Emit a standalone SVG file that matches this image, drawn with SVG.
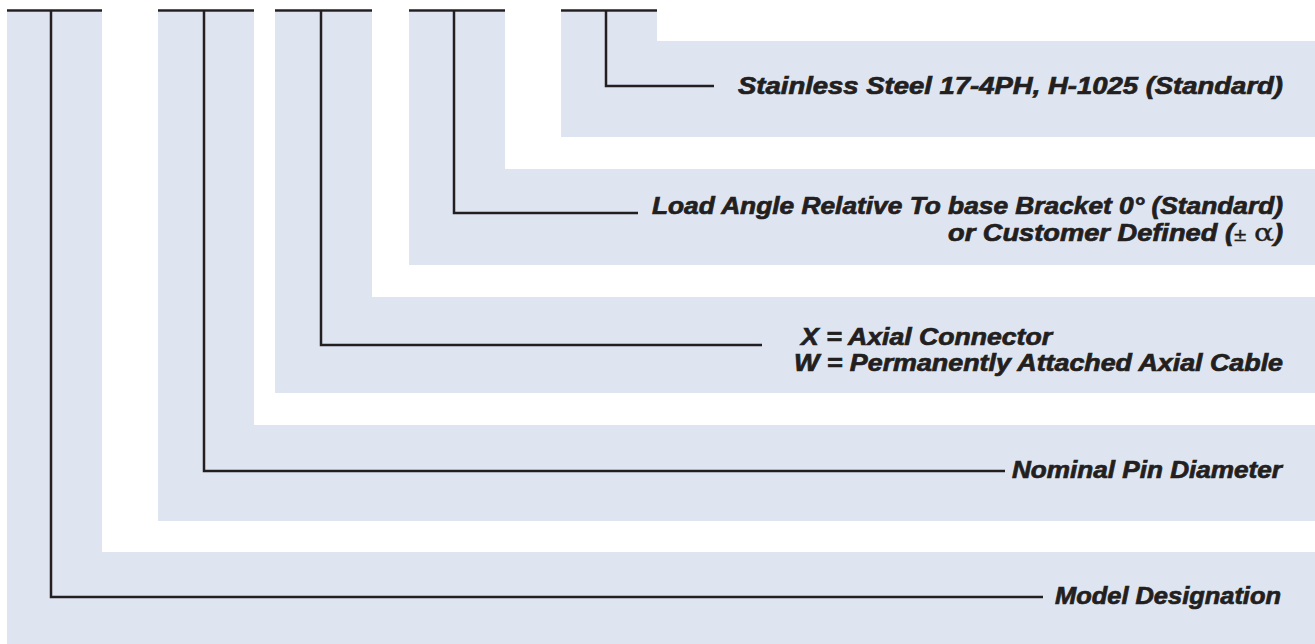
<svg xmlns="http://www.w3.org/2000/svg" width="1315" height="644" viewBox="0 0 1315 644">
<style>
.panel{fill:#dee5f1;stroke:none}
.lbl{font-family:"Liberation Sans",Arial,sans-serif;font-weight:bold;font-style:italic;font-size:23px;fill:#231f20;stroke:#231f20;stroke-width:0.7}
.ln{fill:none;stroke:#231f20;stroke-width:2.5;stroke-linecap:butt;stroke-linejoin:miter}
.bar{fill:none;stroke:#231f20;stroke-width:2.5}
.sym{font-family:"DejaVu Serif",serif;font-style:normal;font-weight:normal;stroke-width:0.3}
.pm{font-weight:normal;font-style:normal;stroke-width:0.3}
</style>
<rect x="0" y="0" width="1315" height="644" fill="#ffffff"/>
<g id="material">
<polygon class="panel" points="561,12 657,12 657,41 1315,41 1315,137 561,137"/>
<text class="lbl" x="738" y="94" textLength="545" lengthAdjust="spacingAndGlyphs">Stainless Steel 17-4PH, H-1025 (Standard)</text>
</g>
<g id="load-angle">
<polygon class="panel" points="409,12 505,12 505,169 1315,169 1315,265 409,265"/>
<text class="lbl" x="652" y="214" textLength="631" lengthAdjust="spacingAndGlyphs">Load Angle Relative To base Bracket 0° (Standard)</text>
<text class="lbl" x="948" y="241" textLength="335" lengthAdjust="spacingAndGlyphs">or Customer Defined (<tspan class="pm" font-size="19">±</tspan> <tspan class="sym" font-size="25">α</tspan>)</text>
</g>
<g id="connector">
<polygon class="panel" points="275,12 372,12 372,297 1315,297 1315,393 275,393"/>
<text class="lbl" x="801" y="345" textLength="251" lengthAdjust="spacingAndGlyphs">X = Axial Connector</text>
<text class="lbl" x="794" y="371" textLength="489" lengthAdjust="spacingAndGlyphs">W = Permanently Attached Axial Cable</text>
</g>
<g id="pin-diameter">
<polygon class="panel" points="158,12 254,12 254,425 1315,425 1315,521 158,521"/>
<text class="lbl" x="1012" y="478" textLength="270" lengthAdjust="spacingAndGlyphs">Nominal Pin Diameter</text>
</g>
<g id="model">
<polygon class="panel" points="7,12 102,12 102,552 1315,552 1315,644 7,644"/>
<text class="lbl" x="1055" y="604" textLength="226" lengthAdjust="spacingAndGlyphs">Model Designation</text>
</g>
<g id="connectors">
<line class="bar" x1="7" y1="10.5" x2="102" y2="10.5"/>
<line class="bar" x1="158" y1="10.5" x2="254" y2="10.5"/>
<line class="bar" x1="275" y1="10.5" x2="372" y2="10.5"/>
<line class="bar" x1="409" y1="10.5" x2="505" y2="10.5"/>
<line class="bar" x1="561" y1="10.5" x2="657" y2="10.5"/>
<polyline class="ln" points="606,10 606,86 714,86"/>
<polyline class="ln" points="454,10 454,213 638,213"/>
<polyline class="ln" points="321,10 321,345 762,345"/>
<polyline class="ln" points="204,10 204,471 1005,471"/>
<polyline class="ln" points="51,10 51,597 1043,597"/>
</g>
</svg>
